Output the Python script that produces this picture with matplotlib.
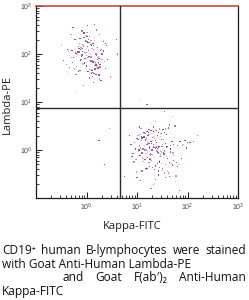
import matplotlib
matplotlib.use("Agg")
import matplotlib.pyplot as plt
from matplotlib.ticker import LogLocator, NullFormatter

# ---------------- data (log10 values) ----------------
# upper-left population (Lambda+)
A_x = [0.05,-0.12,0.18,0.02,-0.25,0.31,0.10,-0.05,0.22,-0.18,0.08,0.14,-0.30,0.00,0.26,-0.08,0.12,-0.15,0.35,0.04,
       -0.22,0.19,-0.02,0.09,-0.40,0.28,0.06,-0.10,0.16,-0.33,0.01,0.24,-0.06,0.11,-0.19,0.38,0.07,-0.27,0.15,-0.03,
       0.21,-0.14,0.03,0.29,-0.09,0.13,-0.36,0.17,-0.01,0.25,-0.21,0.10,-0.07,0.33,0.00,-0.16,0.20,-0.45,0.08,0.27,
       -0.11,0.14,-0.04,0.42,-0.24,0.05,0.18,-0.29,0.12,-0.13,0.23,0.02,-0.20,0.30,-0.06,0.09,-0.50,0.16,0.48,-0.17]
A_y = [1.95,2.10,1.80,2.25,1.70,2.00,1.62,2.35,1.88,2.05,1.55,2.18,1.92,1.75,2.40,1.98,1.68,2.12,1.85,2.30,
       2.02,1.58,1.90,2.20,1.78,2.08,1.50,1.96,2.28,1.72,2.45,1.83,2.15,1.65,1.99,2.22,1.87,2.55,1.60,2.03,
       1.76,2.32,1.93,1.45,2.11,1.82,2.06,1.69,2.38,1.91,1.57,2.17,1.79,2.26,1.97,1.64,2.50,1.86,2.01,1.73,
       2.14,1.40,2.42,1.89,1.67,2.24,1.81,2.07,1.53,2.33,1.94,2.60,1.74,2.09,1.35,1.84,2.19,2.62,1.52,2.04]
A2_x = [-0.08,0.15,0.02,-0.20,0.27,0.09,-0.13,0.19,-0.03,0.11,-0.28,0.06,0.23,-0.10,0.13,-0.35,0.04,0.31,-0.05,0.17,
        -0.16,0.08,0.25,-0.01,-0.23,0.12,0.37,-0.07,0.20,-0.31,0.03,0.14,-0.12,0.28,0.00,-0.18,0.10,0.22,-0.04,0.16,
        -0.26,0.07,0.34,-0.09,0.19,-0.14,0.05,0.26,-0.38,0.11,-0.02,0.21,-0.21,0.13,0.40,-0.11,0.01,0.24,-0.15,0.09]
A2_y = [2.05,1.85,2.15,1.95,1.78,2.28,1.66,2.00,1.90,2.12,1.82,2.36,1.71,1.98,2.22,1.60,2.08,1.88,2.44,1.76,
        2.16,1.93,1.56,2.03,2.30,1.84,1.70,2.19,1.97,2.40,1.63,2.10,1.87,1.74,2.26,1.99,1.59,2.13,1.81,2.34,
        1.92,1.68,2.06,2.48,1.77,2.21,1.95,1.48,2.09,1.86,2.27,1.73,2.01,1.62,2.17,1.89,2.37,1.80,2.04,1.94]

# lower-right population (Kappa+)
B_x = [1.35,1.10,1.52,1.28,1.70,1.05,1.42,1.22,1.60,1.38,0.98,1.48,1.15,1.80,1.30,1.55,1.08,1.45,1.25,1.65,
       1.33,0.92,1.50,1.18,1.75,1.40,1.12,1.58,1.27,1.85,1.36,1.02,1.46,1.20,1.68,1.32,1.62,1.14,1.44,1.24,
       1.90,1.37,0.95,1.53,1.29,1.72,1.07,1.41,1.19,1.57,1.34,1.00,1.49,1.23,1.78,1.39,1.11,1.63,1.26,1.95,
       1.31,0.88,1.47,1.16,1.67,1.43,1.09,1.54,1.21,1.82,1.36,1.04,1.51,1.17,1.73,1.38,1.13,1.59,1.28,2.05,
       1.34,0.90,1.45,1.25,1.66,1.40,1.06,1.56,1.22,1.88,1.32,0.97,1.48,1.19,1.71,1.43,1.10,1.61,1.27,2.12,
       1.30,0.85,1.44,1.20,1.76,1.37,1.03,1.52,1.24,1.98,1.35,1.14,1.55,1.29,1.64,1.42,1.01,1.50,1.18,1.84]
B_y = [0.05,0.25,-0.15,0.40,-0.30,0.10,-0.05,0.30,-0.45,0.15,-0.20,0.35,0.00,-0.35,0.20,-0.10,0.45,-0.25,0.08,-0.55,
       0.28,-0.08,0.12,-0.38,0.50,0.02,-0.18,0.32,-0.12,0.18,-0.62,0.22,-0.02,0.38,-0.28,0.06,-0.48,0.26,-0.14,0.42,
       0.10,-0.32,0.16,-0.06,0.55,-0.22,0.04,0.30,-0.40,0.14,-0.70,0.24,-0.04,0.36,-0.26,0.08,-0.16,0.46,-0.10,0.20,
       -0.36,0.12,0.34,-0.20,0.03,-0.52,0.28,-0.08,0.18,-0.30,0.60,0.00,-0.42,0.22,-0.12,0.40,-0.24,0.06,-0.80,0.16,
       0.26,-0.14,0.44,-0.34,0.10,-0.04,0.32,-0.58,0.14,-0.18,0.48,0.02,-0.28,0.24,-0.06,0.36,-0.44,0.08,-0.22,0.18,
       -0.10,0.30,-0.36,0.12,-0.66,0.20,-0.02,0.42,-0.26,0.04,-0.16,0.28,-0.48,0.14,0.52,-0.08,0.22,-0.38,0.00,-0.85]
B2_x = [1.32,1.18,1.48,1.26,1.58,1.12,1.40,1.22,1.66,1.36,1.06,1.50,1.20,1.74,1.30,1.44,1.14,1.54,1.28,1.62,
        1.38,1.02,1.46,1.24,1.70,1.34,1.10,1.56,1.26,1.80,1.42,1.08,1.52,1.16,1.64,1.36,1.00,1.47,1.21,1.92,
        1.33,0.94,1.49,1.19,1.69,1.39,1.05,1.57,1.25,1.86,1.31,0.99,1.43,1.23,1.61,1.41,1.07,1.53,1.27,2.00,
        1.35,1.15,1.51,1.29,1.67,1.37,1.09,1.59,1.17,1.77,1.45,0.93,1.55,1.21,1.72,1.33,1.11,1.47,1.25,1.83]
B2_y = [0.12,-0.08,0.22,-0.18,0.32,0.02,-0.28,0.16,-0.04,0.40,-0.12,0.08,-0.38,0.26,0.00,-0.22,0.36,-0.02,0.18,-0.50,
        0.06,0.30,-0.14,0.14,-0.32,0.24,-0.06,0.44,-0.20,0.10,-0.44,0.20,-0.10,0.34,-0.26,0.04,-0.58,0.28,-0.16,0.12,
        0.38,-0.24,0.08,-0.36,0.18,-0.02,0.48,-0.30,0.14,-0.12,0.26,-0.46,0.06,0.32,-0.18,0.00,-0.64,0.22,-0.08,0.16,
        -0.40,0.10,0.42,-0.22,0.02,-0.34,0.28,-0.14,0.20,-0.54,0.08,-0.26,0.36,-0.04,0.12,-0.72,0.24,-0.10,0.04,-0.30]

# stray events
O_x = [1.05, 1.55, 0.45, 0.25, 0.62, 1.20, -0.20, 0.60, 1.70, 0.35, 2.20, 0.75]
O_y = [1.05, 0.80, 0.45, 0.20, 2.00, 0.95, 1.20, 2.30, 0.70, -0.30, 0.30, -0.55]

quad_x = 0.67   # log10 of vertical gate
quad_y = 0.88   # log10 of horizontal gate

x_ticks = [0, 1, 2, 3]
y_ticks = [0, 1, 2, 3]
x_label = "Kappa-FITC"
y_label = "Lambda-PE"
caption = [
    ("CD19\u207a human B-lymphocytes were stained", True, 2),
    ("with Goat Anti-Human Lambda-PE", False, 2),
    ("and Goat F(ab\u2032)\u2082 Anti-Human", True, 62),
    ("Kappa-FITC", False, 2),
]

palette = ["#e08cc0", "#8a4aa6", "#c868a8", "#6266b4", "#eab4d6", "#a65a9e"]

# ---------------- figure ----------------
W, H = 249, 300
fig = plt.figure(figsize=(W / 100, H / 100), dpi=100)
L, R, T, B = 36, 238, 6, 198
ax = fig.add_axes([L / W, 1 - B / H, (R - L) / W, (B - T) / H])
ax.set_xscale("log")
ax.set_yscale("log")
ax.set_xlim(10 ** -1.0, 10 ** 3)
ax.set_ylim(10 ** -1.0, 10 ** 3)

def pts(lx, ly):
    n = min(len(lx), len(ly))
    return [10 ** v for v in lx[:n]], [10 ** v for v in ly[:n]], n

k = 0
for lx, ly in [(A_x, A_y), (A2_x, A2_y), (B_x, B_y), (B2_x, B2_y), (O_x, O_y)]:
    xs, ys, n = pts(lx, ly)
    cols = [palette[(k + i) % len(palette)] for i in range(n)]
    k += 1
    ax.scatter(xs, ys, s=0.9, c=cols, marker="s", linewidths=0, zorder=2)

ax.axvline(10 ** quad_x, color="#2a2a2a", lw=1.0, zorder=3)
ax.axhline(10 ** quad_y, color="#2a2a2a", lw=1.0, zorder=3)

for s in ["left", "bottom", "right"]:
    ax.spines[s].set_color("#1a1a1a")
    ax.spines[s].set_linewidth(0.9)
ax.spines["top"].set_color("#c0392b")
ax.spines["top"].set_linewidth(1.1)

ax.xaxis.set_minor_locator(LogLocator(base=10, subs=range(2, 10), numticks=20))
ax.yaxis.set_minor_locator(LogLocator(base=10, subs=range(2, 10), numticks=20))
ax.xaxis.set_minor_formatter(NullFormatter())
ax.yaxis.set_minor_formatter(NullFormatter())
ax.set_xticks([10 ** v for v in x_ticks])
ax.set_yticks([10 ** v for v in y_ticks])
ax.tick_params(which="major", direction="in", length=4, width=0.7, colors="#1a1a1a",
               labelsize=5, labelcolor="#444444", pad=2.5, top=False, right=False)
ax.tick_params(which="minor", direction="in", length=2.2, width=0.6, colors="#1a1a1a",
               top=False, right=False)
for lab in ax.get_xticklabels() + ax.get_yticklabels():
    lab.set_fontfamily("Liberation Sans")

fig.text(132 / W, 1 - 226 / H, x_label, ha="center", va="center",
         fontsize=8, family="Open Sans", color="#222222")
fig.text(7 / W, 1 - 104 / H, y_label, ha="center", va="center", rotation=90,
         fontsize=8, family="Open Sans", color="#222222")

# ---------------- justified caption ----------------
fig.canvas.draw()
renderer = fig.canvas.get_renderer()
baselines = [254, 267.5, 281, 294.5]
fam = ["Open Sans", "DejaVu Sans"]
fs = 8.6
for (line, justify, x0), yb in zip(caption, baselines):
    words = line.split(" ")
    if not justify:
        fig.text(x0 / W, 1 - yb / H, line, ha="left", va="baseline",
                 fontsize=fs, family=fam, color="#111111")
        continue
    objs = [fig.text(0, 1 - yb / H, w, ha="left", va="baseline",
                     fontsize=fs, family=fam, color="#111111") for w in words]
    widths = [o.get_window_extent(renderer).width for o in objs]
    gap = (246 - x0 - sum(widths)) / (len(words) - 1)
    x = x0
    for o, wd in zip(objs, widths):
        o.set_x(x / W)
        x += wd + gap

fig.savefig("out.png", dpi=100)
